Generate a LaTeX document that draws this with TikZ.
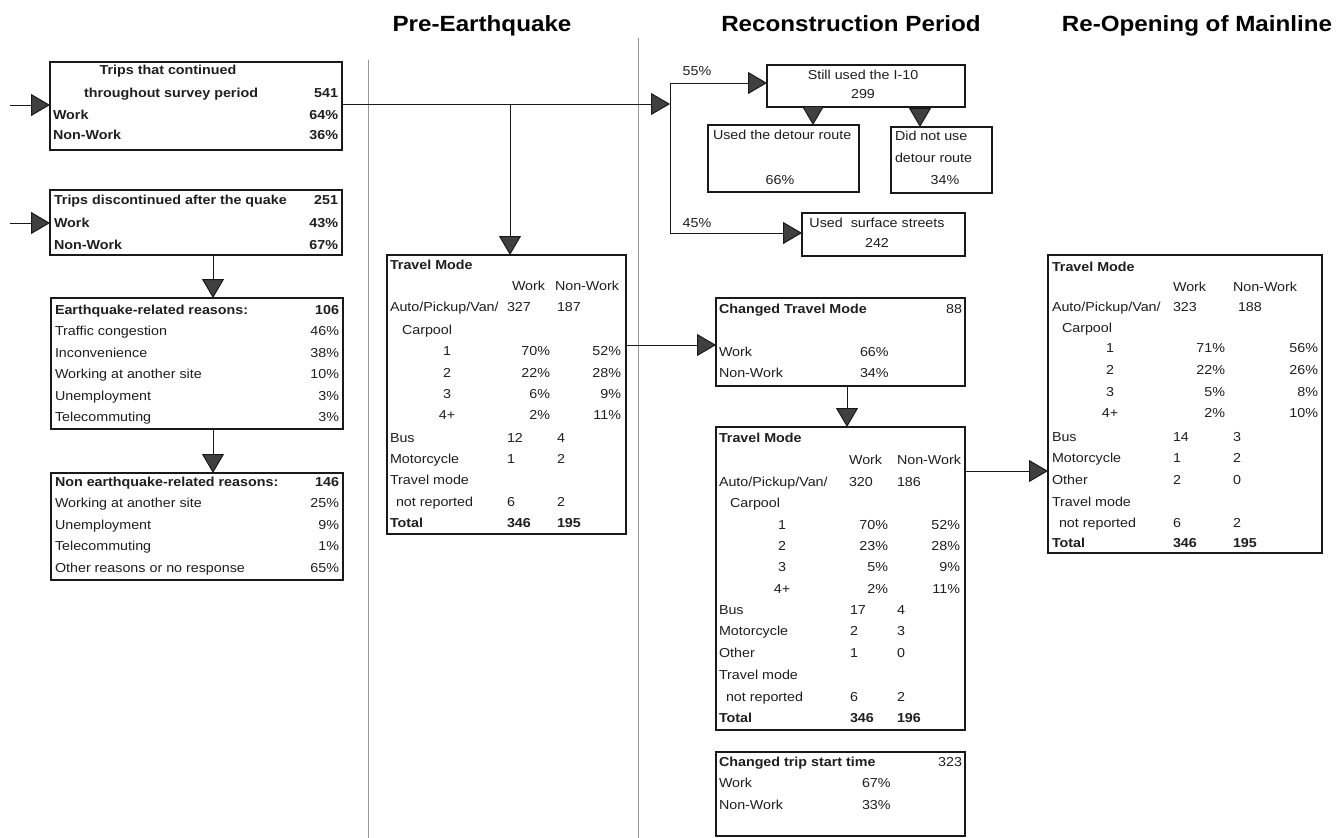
\documentclass[tikz,border=0pt]{standalone}
\usepackage{fontspec}
\setmainfont{Liberation Sans}[FakeStretch=1.1]
\newfontfamily\hdrfont{Liberation Sans}[FakeStretch=1.1]
\usetikzlibrary{arrows.meta}
\newcounter{tn}
\tikzset{
  txt/.style={inner sep=0pt, outer sep=0pt, text=black!88, font=\fontsize{13}{15}\selectfont},
  hdr/.style={inner sep=0pt, anchor=base, font=\hdrfont\bfseries\fontsize{22}{26}\selectfont},
  box/.style={draw=black!90, line width=1.4pt, inner sep=0pt, outer sep=0pt, fill=white},
  thickbox/.style={box, line width=2.4pt},
  arr/.style={draw=black!90, line width=1pt, -{Triangle[length=19pt,width=22pt,fill=black!75]}},
  conn/.style={draw=black!90, line width=1pt},
  divider/.style={draw=black!40, line width=0.8pt}
}
\newcommand\PutL[3]{\stepcounter{tn}\node[txt,anchor=base west] (t\thetn) at (#1,{#2+4.5}) {#3};}
\newcommand\PutR[3]{\stepcounter{tn}\node[txt,anchor=base east] (t\thetn) at (#1,{#2+4.5}) {#3};}
\newcommand\PutC[3]{\stepcounter{tn}\node[txt,anchor=base] (t\thetn) at (#1,{#2+4.5}) {#3};}
\begin{document}
\begin{tikzpicture}[x=1pt,y=-1pt]
\useasboundingbox (0,0) rectangle (1342,838);
\fill[white] (0,0) rectangle (1342,838);

% headers
\node[hdr] (h1) at (482,31) {Pre-Earthquake};
\node[hdr] (h2) at (851,31) {Reconstruction Period};
\node[hdr] (h3) at (1197,31) {Re-Opening of Mainline};

% dividers
\coordinate (dv1a) at (368,60);  \coordinate (dv1b) at (368,838);
\coordinate (dv2a) at (638,38);  \coordinate (dv2b) at (638,838);
\draw[divider] (dv1a) -- (dv1b);
\draw[divider] (dv2a) -- (dv2b);

% boxes
\node[thickbox, minimum width=292, minimum height=88] (b1) at (196,106) {};
\node[thickbox, minimum width=292, minimum height=65] (b2) at (196,222.5) {};
\node[box, minimum width=292, minimum height=131] (b3) at (197,363.5) {};
\node[box, minimum width=292, minimum height=107] (b4) at (197,526.5) {};
\node[box, minimum width=239, minimum height=279] (pre) at (506.5,394.5) {};
\node[box, minimum width=198, minimum height=42] (s1) at (866,86) {};
\node[box, minimum width=151, minimum height=67] (s2) at (783.5,158.5) {};
\node[box, minimum width=101, minimum height=66] (s3) at (941.5,160) {};
\node[box, minimum width=163, minimum height=43] (s4) at (883.5,234.5) {};
\node[box, minimum width=249, minimum height=88] (cm) at (840.5,342) {};
\node[box, minimum width=249, minimum height=303] (rt) at (840.5,578.5) {};
\node[box, minimum width=249, minimum height=84] (ct) at (840.5,794) {};
\node[box, minimum width=274, minimum height=298] (ro) at (1185,404) {};

% connectors
\coordinate (in1) at (10,105);
\coordinate (in2) at (10,223);
\draw[arr] (in1) -- (in1 -| b1.west);
\draw[arr] (in2) -- (in2 -| b2.west);
\coordinate (x213) at (213,0);
\draw[arr] (b2.south -| x213) -- (b3.north -| x213);
\draw[arr] (b3.south -| x213) -- (b4.north -| x213);
\coordinate (j) at (670,104);
\coordinate (br) at (510,104);
\draw[arr] (b1.east |- j) -- (j);
\draw[arr] (br) -- (br |- pre.north);
\coordinate (jt) at (670,83);
\coordinate (jb) at (670,233);
\draw[conn] (jt) -- (jb);
\draw[arr] (jt) -- (jt -| s1.west);
\draw[arr] (jb) -- (jb -| s4.west);
\coordinate (d1) at (813,0);
\coordinate (d2) at (920,0);
\draw[arr] (s1.south -| d1) -- (s2.north -| d1);
\draw[arr] (s1.south -| d2) -- (s3.north -| d2);
\coordinate (hh1) at (0,345);
\draw[arr] (pre.east |- hh1) -- (cm.west |- hh1);
\coordinate (v1) at (847,0);
\draw[arr] (cm.south -| v1) -- (rt.north -| v1);
\coordinate (hh2) at (0,471);
\draw[arr] (rt.east |- hh2) -- (ro.west |- hh2);

% branch labels
\PutC{697}{71}{55\%}
\PutC{697}{223}{45\%}

% box 1
\PutC{168}{70}{\bfseries Trips that continued}
\PutC{171}{93}{\bfseries throughout survey period}
\PutR{338}{93}{\bfseries 541}
\PutL{53}{115}{\bfseries Work} \PutR{338}{115}{\bfseries 64\%}
\PutL{53}{135}{\bfseries Non-Work} \PutR{338}{135}{\bfseries 36\%}

% box 2
\PutL{54}{200}{\bfseries Trips discontinued after the quake} \PutR{338}{200}{\bfseries 251}
\PutL{54}{223}{\bfseries Work} \PutR{338}{223}{\bfseries 43\%}
\PutL{54}{245}{\bfseries Non-Work} \PutR{338}{245}{\bfseries 67\%}

% box 3
\PutL{55}{310}{\bfseries Earthquake-related reasons:} \PutR{339}{310}{\bfseries 106}
\PutL{55}{331}{Traffic congestion} \PutR{339}{331}{46\%}
\PutL{55}{353}{Inconvenience} \PutR{339}{353}{38\%}
\PutL{55}{374}{Working at another site} \PutR{339}{374}{10\%}
\PutL{55}{396}{Unemployment} \PutR{339}{396}{3\%}
\PutL{55}{417}{Telecommuting} \PutR{339}{417}{3\%}

% box 4
\PutL{55}{482}{\bfseries Non earthquake-related reasons:} \PutR{339}{482}{\bfseries 146}
\PutL{55}{503}{Working at another site} \PutR{339}{503}{25\%}
\PutL{55}{525}{Unemployment} \PutR{339}{525}{9\%}
\PutL{55}{546}{Telecommuting} \PutR{339}{546}{1\%}
\PutL{55}{568}{Other reasons or no response} \PutR{339}{568}{65\%}

% pre-earthquake table
\PutL{390}{265}{\bfseries Travel Mode}
\PutL{512}{286}{Work} \PutL{555}{286}{Non-Work}
\PutL{390}{307}{Auto/Pickup/Van/} \PutL{507}{307}{327} \PutL{557}{307}{187}
\PutL{402}{330}{Carpool}
\PutC{447}{351}{1} \PutR{550}{351}{70\%} \PutR{621}{351}{52\%}
\PutC{447}{373}{2} \PutR{550}{373}{22\%} \PutR{621}{373}{28\%}
\PutC{447}{394}{3} \PutR{550}{394}{6\%} \PutR{621}{394}{9\%}
\PutC{447}{415}{4+} \PutR{550}{415}{2\%} \PutR{621}{415}{11\%}
\PutL{390}{438}{Bus} \PutL{507}{438}{12} \PutL{557}{438}{4}
\PutL{390}{459}{Motorcycle} \PutL{507}{459}{1} \PutL{557}{459}{2}
\PutL{390}{480}{Travel mode}
\PutL{396}{502}{not reported} \PutL{507}{502}{6} \PutL{557}{502}{2}
\PutL{390}{523}{\bfseries Total} \PutL{507}{523}{\bfseries 346} \PutL{557}{523}{\bfseries 195}

% top reconstruction boxes
\PutC{863}{75}{Still used the I-10}
\PutC{863}{94}{299}
\PutL{713}{135}{Used the detour route}
\PutC{780}{180}{66\%}
\PutL{895}{136}{Did not use}
\PutL{895}{158}{detour route}
\PutC{945}{180}{34\%}
\PutC{877}{223}{Used\ \ surface streets}
\PutC{877}{243}{242}

% changed travel mode
\PutL{719}{309}{\bfseries Changed Travel Mode} \PutR{962}{309}{88}
\PutL{719}{352}{Work} \PutL{860}{352}{66\%}
\PutL{719}{373}{Non-Work} \PutL{860}{373}{34\%}

% reconstruction travel mode table
\PutL{719}{438}{\bfseries Travel Mode}
\PutL{849}{460}{Work} \PutL{897}{460}{Non-Work}
\PutL{719}{482}{Auto/Pickup/Van/} \PutL{849}{482}{320} \PutL{897}{482}{186}
\PutL{730}{503}{Carpool}
\PutC{782}{525}{1} \PutR{888}{525}{70\%} \PutR{960}{525}{52\%}
\PutC{782}{546}{2} \PutR{888}{546}{23\%} \PutR{960}{546}{28\%}
\PutC{782}{567}{3} \PutR{888}{567}{5\%} \PutR{960}{567}{9\%}
\PutC{782}{589}{4+} \PutR{888}{589}{2\%} \PutR{960}{589}{11\%}
\PutL{719}{610}{Bus} \PutL{850}{610}{17} \PutL{897}{610}{4}
\PutL{719}{631}{Motorcycle} \PutL{850}{631}{2} \PutL{897}{631}{3}
\PutL{719}{653}{Other} \PutL{850}{653}{1} \PutL{897}{653}{0}
\PutL{719}{675}{Travel mode}
\PutL{726}{697}{not reported} \PutL{850}{697}{6} \PutL{897}{697}{2}
\PutL{719}{718}{\bfseries Total} \PutL{850}{718}{\bfseries 346} \PutL{897}{718}{\bfseries 196}

% changed trip start time
\PutL{719}{762}{\bfseries Changed trip start time} \PutR{962}{762}{323}
\PutL{719}{783}{Work} \PutL{862}{783}{67\%}
\PutL{719}{805}{Non-Work} \PutL{862}{805}{33\%}

% re-opening table
\PutL{1052}{267}{\bfseries Travel Mode}
\PutL{1173}{287}{Work} \PutL{1233}{287}{Non-Work}
\PutL{1052}{307}{Auto/Pickup/Van/} \PutL{1173}{307}{323} \PutL{1238}{307}{188}
\PutL{1062}{328}{Carpool}
\PutC{1110}{348}{1} \PutR{1225}{348}{71\%} \PutR{1318}{348}{56\%}
\PutC{1110}{370}{2} \PutR{1225}{370}{22\%} \PutR{1318}{370}{26\%}
\PutC{1110}{392}{3} \PutR{1225}{392}{5\%} \PutR{1318}{392}{8\%}
\PutC{1110}{413}{4+} \PutR{1225}{413}{2\%} \PutR{1318}{413}{10\%}
\PutL{1052}{437}{Bus} \PutL{1173}{437}{14} \PutL{1233}{437}{3}
\PutL{1052}{458}{Motorcycle} \PutL{1173}{458}{1} \PutL{1233}{458}{2}
\PutL{1052}{480}{Other} \PutL{1173}{480}{2} \PutL{1233}{480}{0}
\PutL{1052}{502}{Travel mode}
\PutL{1059}{523}{not reported} \PutL{1173}{523}{6} \PutL{1233}{523}{2}
\PutL{1052}{543}{\bfseries Total} \PutL{1173}{543}{\bfseries 346} \PutL{1233}{543}{\bfseries 195}
\end{tikzpicture}
\end{document}
